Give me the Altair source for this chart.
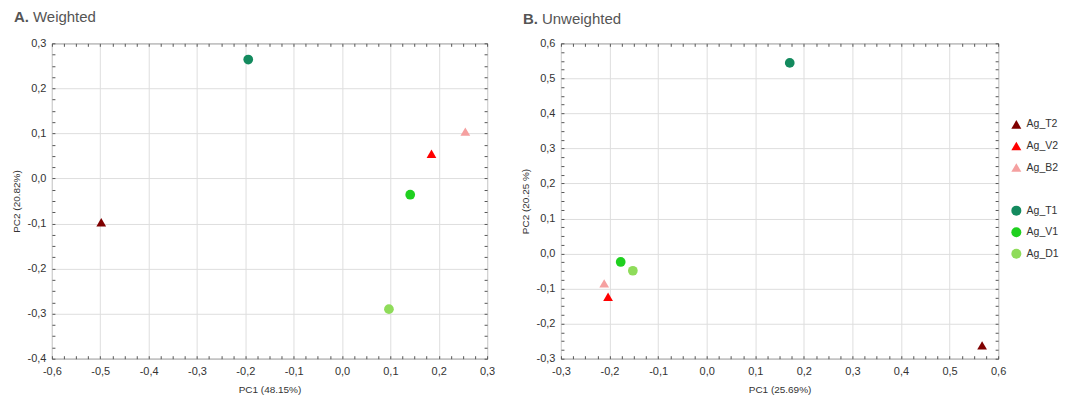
import altair as alt
import pandas as pd

samples = ["Ag_T2", "Ag_V2", "Ag_B2", "Ag_T1", "Ag_V1", "Ag_D1"]
colors = ["#7f0000", "#ff0000", "#f5a0a0", "#138a5e", "#1fd01f", "#8fdc5a"]
shapes = ["triangle-up", "triangle-up", "triangle-up", "circle", "circle", "circle"]

weighted_pc1 = [-0.498, 0.185, 0.255, -0.194, 0.141, 0.097]
weighted_pc2 = [-0.097, 0.055, 0.104, 0.264, -0.036, -0.290]
unweighted_pc1 = [0.567, -0.203, -0.211, 0.171, -0.177, -0.152]
unweighted_pc2 = [-0.262, -0.123, -0.085, 0.544, -0.024, -0.049]

# legend domain with a blank spacer entry between the two groups
leg_domain = samples[:3] + [" "] + samples[3:]
leg_colors = colors[:3] + ["#ffffff"] + colors[3:]
leg_shapes = shapes[:3] + ["circle"] + shapes[3:]

FONT = "Liberation Sans"
MAJOR = "abs(datum.value*10 - round(datum.value*10)) < 0.01"
LABEL = (f"{MAJOR} ? ((datum.value < -0.001 ? '-' : '') + "
         "replace(format(abs(datum.value), '.1f'), '.', ',')) : ''")


def minor_vals(lo, hi):
    n = int(round((hi - lo) / 0.025))
    return [round(lo + i * 0.025, 4) for i in range(n + 1)]


def main_axis(orient, vals, title, label_pad, title_pad):
    return alt.Axis(
        orient=orient, values=vals, labelExpr=LABEL, title=title,
        grid=True,
        gridOpacity={"condition": {"test": MAJOR, "value": 1}, "value": 0},
        domain=False, ticks=True, tickSize=3, offset=-3,
        labelPadding=label_pad, titlePadding=title_pad,
        labelOverlap=False, labelFlush=False,
    )


def minor_axis(orient, vals):
    return alt.Axis(
        orient=orient, values=vals, labels=False, title=None, grid=False,
        domain=False, ticks=True, tickSize=3, offset=-3,
    )


def panel(pc1, pc2, xdom, ydom, xtitle, ytitle, letter, name, w, h,
          show_legend, tx, ty, nx):
    df = pd.DataFrame({"sample": samples, "pc1": pc1, "pc2": pc2})
    xs = alt.Scale(domain=xdom, nice=False, zero=False)
    ys = alt.Scale(domain=ydom, nice=False, zero=False)
    xv = minor_vals(*xdom)
    yv = minor_vals(*ydom)
    if show_legend:
        legend = alt.Legend(orient="none", legendX=w + 13, legendY=76,
                            title=None, padding=0, symbolSize=100,
                            labelFontSize=10.5, labelColor="#333",
                            labelFont=FONT, labelOffset=5, rowPadding=10.6,
                            symbolStrokeWidth=0)
    else:
        legend = None
    pts = alt.Chart(df).mark_point(filled=True, opacity=1, size=95).encode(
        x=alt.X("pc1:Q", scale=xs, axis=main_axis("bottom", xv, xtitle, 7, 8)),
        y=alt.Y("pc2:Q", scale=ys, axis=main_axis("left", yv, ytitle, 6, 6)),
        color=alt.Color("sample:N",
                        scale=alt.Scale(domain=leg_domain, range=leg_colors),
                        legend=legend),
        shape=alt.Shape("sample:N",
                        scale=alt.Scale(domain=leg_domain, range=leg_shapes),
                        legend=legend),
    )
    frame = alt.Chart(df).mark_point(opacity=0).encode(
        x=alt.X("pc1:Q", scale=xs, axis=minor_axis("top", xv)),
        y=alt.Y("pc2:Q", scale=ys, axis=minor_axis("right", yv)),
    )
    t1 = alt.Chart(pd.DataFrame({"t": [letter]})).mark_text(
        font=FONT, fontSize=15, fontWeight="bold", color="#555",
        align="left", baseline="alphabetic").encode(
        x=alt.value(tx), y=alt.value(ty), text="t:N")
    t2 = alt.Chart(pd.DataFrame({"t": [name]})).mark_text(
        font=FONT, fontSize=15, fontWeight="normal", color="#555",
        align="left", baseline="alphabetic").encode(
        x=alt.value(nx), y=alt.value(ty), text="t:N")
    return alt.layer(pts, frame, t1, t2).resolve_axis(
        x="independent", y="independent").properties(width=w, height=h)


left = panel(weighted_pc1, weighted_pc2, [-0.6, 0.3], [-0.4, 0.3],
             "PC1  (48.15%)", "PC2  (20.82%)", "A.", "Weighted",
             436, 316, False, -38, -21, -19)
right = panel(unweighted_pc1, unweighted_pc2, [-0.3, 0.6], [-0.3, 0.6],
              "PC1  (25.69%)", "PC2  (20.25 %)", "B.", "Unweighted",
              438, 316, True, -38, -19, -19)

chart = alt.hconcat(left, right, spacing=23).resolve_scale(
    color="independent", shape="independent").resolve_legend(
    color="independent", shape="independent").properties(
    padding={"left": 2, "top": 1, "right": 5, "bottom": 5}
).configure(font=FONT, background="white").configure_view(
    stroke="#555", strokeWidth=1
).configure_axis(
    labelFont=FONT, titleFont=FONT, labelFontSize=11, titleFontSize=10,
    labelColor="#333", titleColor="#333", titleFontWeight="normal",
    gridColor="#dedede", gridWidth=1, tickColor="#555", tickWidth=1,
)

chart.save("out.html", embed_options={"renderer": "svg", "actions": False})
